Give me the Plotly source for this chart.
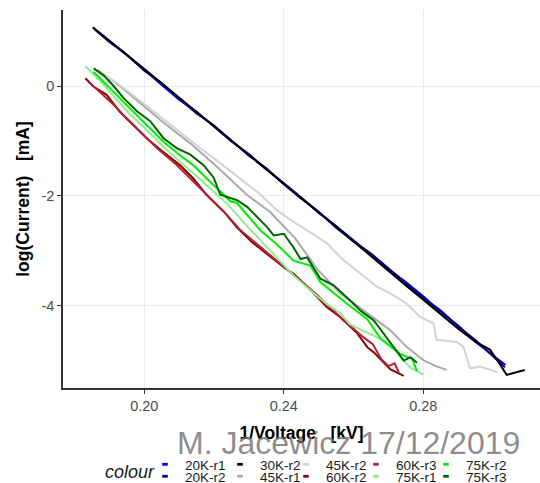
import plotly.graph_objects as go

# ---------------- data ----------------
names = ["20K-r1", "20K-r2", "30K-r2", "45K-r1", "45K-r2",
         "60K-r2", "60K-r3", "75K-r1", "75K-r2", "75K-r3"]
colors = ["#0000FF", "#00008B", "#000000", "#A9A9A9", "#D3D3D3",
          "#8B0000", "#B22234", "#90EE90", "#00EE00", "#006400"]

x_20k_r1 = [0.1855, 0.190, 0.195, 0.200, 0.205, 0.210, 0.215, 0.220, 0.225, 0.230, 0.235, 0.240,
            0.245, 0.250, 0.255, 0.260, 0.265, 0.270, 0.275, 0.280, 0.285, 0.290, 0.295, 0.300, 0.3036]
y_20k_r1 = [1.05, 0.82, 0.55, 0.30, 0.02, -0.25, -0.47, -0.74, -1.01, -1.24, -1.52, -1.77,
            -2.03, -2.31, -2.55, -2.81, -3.07, -3.34, -3.57, -3.83, -4.12, -4.36, -4.66, -4.91, -5.08]

x_20k_r2 = [0.1858, 0.190, 0.195, 0.200, 0.205, 0.210, 0.215, 0.220, 0.225, 0.230, 0.235, 0.240,
            0.245, 0.250, 0.255, 0.260, 0.265, 0.270, 0.275, 0.280, 0.285, 0.290, 0.295, 0.300, 0.3034]
y_20k_r2 = [1.03, 0.80, 0.57, 0.28, 0.05, -0.23, -0.50, -0.72, -1.00, -1.27, -1.50, -1.79,
            -2.05, -2.29, -2.58, -2.83, -3.05, -3.32, -3.60, -3.86, -4.09, -4.38, -4.63, -4.93, -5.12]

x_30k_r2 = [0.1852, 0.190, 0.195, 0.200, 0.205, 0.210, 0.215, 0.220, 0.225, 0.230, 0.235, 0.240,
            0.245, 0.250, 0.255, 0.260, 0.265, 0.270, 0.275, 0.280, 0.285, 0.290, 0.295, 0.2991,
            0.3015, 0.3039, 0.3091]
y_30k_r2 = [1.07, 0.83, 0.57, 0.31, 0.05, -0.21, -0.47, -0.73, -0.99, -1.25, -1.51, -1.77,
            -2.04, -2.30, -2.56, -2.83, -3.10, -3.36, -3.63, -3.89, -4.16, -4.42, -4.66, -4.80,
            -5.02, -5.26, -5.17]

x_45k_r1 = [0.1867, 0.1930, 0.1988, 0.2054, 0.2131, 0.2203, 0.2294, 0.2360, 0.2432, 0.2498,
            0.2561, 0.2618, 0.2656, 0.2704, 0.2752, 0.2800, 0.2836, 0.2867]
y_45k_r1 = [0.29, 0.00, -0.31, -0.66, -1.04, -1.44, -1.98, -2.29, -2.77, -3.35,
            -3.77, -4.04, -4.22, -4.44, -4.75, -4.99, -5.10, -5.17]

x_45k_r2 = [0.1873, 0.1925, 0.1988, 0.2045, 0.2103, 0.2160, 0.2217, 0.2275, 0.2332, 0.2380,
            0.2427, 0.2475, 0.2523, 0.2571, 0.2619, 0.2666, 0.2704, 0.2752, 0.2790, 0.2829,
            0.2838, 0.2896, 0.2915, 0.2934, 0.2963, 0.3001, 0.3011]
y_45k_r2 = [0.25, 0.04, -0.27, -0.56, -0.84, -1.13, -1.40, -1.68, -1.97, -2.26,
            -2.47, -2.66, -2.86, -3.17, -3.41, -3.65, -3.77, -3.96, -4.20, -4.32,
            -4.62, -4.66, -4.75, -5.14, -5.11, -5.20, -5.21]

x_60k_r2 = [0.1831, 0.1854, 0.1892, 0.1930, 0.1969, 0.2007, 0.2054, 0.2102, 0.2140, 0.2178,
            0.2230, 0.2266, 0.2310, 0.2355, 0.2400, 0.2428, 0.2475, 0.2524, 0.2562, 0.2610,
            0.2640, 0.2658, 0.2685, 0.2706, 0.2725, 0.2744]
y_60k_r2 = [0.14, -0.01, -0.16, -0.47, -0.71, -0.95, -1.20, -1.44, -1.68, -1.98,
            -2.30, -2.58, -2.85, -3.08, -3.30, -3.42, -3.70, -4.03, -4.21, -4.50,
            -4.76, -4.85, -5.02, -5.16, -5.22, -5.28]

x_60k_r3 = [0.1840, 0.1880, 0.1915, 0.1950, 0.1995, 0.2040, 0.2090, 0.2135, 0.2180, 0.2230,
            0.2275, 0.2320, 0.2365, 0.2410, 0.2450, 0.2495, 0.2540, 0.2585, 0.2625, 0.2655,
            0.2680, 0.2700, 0.2718, 0.2730]
y_60k_r3 = [0.08, -0.15, -0.36, -0.60, -0.88, -1.15, -1.42, -1.70, -1.99, -2.30,
            -2.62, -2.86, -3.10, -3.33, -3.55, -3.80, -4.08, -4.34, -4.56, -4.70,
            -4.98, -5.10, -5.05, -5.22]

x_75k_r1 = [0.1831, 0.1873, 0.1911, 0.1959, 0.2007, 0.2054, 0.2102, 0.2150, 0.2198, 0.2240,
            0.2290, 0.2332, 0.2380, 0.2428, 0.2480, 0.2523, 0.2561, 0.2590, 0.2675, 0.2714,
            0.2736, 0.2763, 0.2800]
y_75k_r1 = [0.36, 0.10, -0.18, -0.52, -0.80, -1.10, -1.38, -1.64, -1.92, -2.16,
            -2.52, -2.80, -3.13, -3.45, -3.74, -3.97, -4.13, -4.34, -4.60, -4.75,
            -4.95, -5.13, -5.25]

x_75k_r2 = [0.1854, 0.1873, 0.1911, 0.1959, 0.2007, 0.2054, 0.2102, 0.2140, 0.2178, 0.2218,
            0.2247, 0.2266, 0.2333, 0.2380, 0.2428, 0.2476, 0.2505, 0.2582, 0.2639, 0.2677,
            0.2734, 0.2768, 0.2782]
y_75k_r2 = [0.26, 0.14, -0.10, -0.40, -0.71, -1.01, -1.26, -1.44, -1.68, -1.93,
            -2.10, -2.13, -2.63, -2.88, -3.18, -3.27, -3.57, -3.97, -4.24, -4.60,
            -4.88, -4.97, -5.19]

x_75k_r3 = [0.1855, 0.1884, 0.1912, 0.1941, 0.1979, 0.2017, 0.2055, 0.2093, 0.2132, 0.2170,
            0.2199, 0.2218, 0.2266, 0.2295, 0.2352, 0.2371, 0.2400, 0.2428, 0.2448, 0.2467,
            0.2505, 0.2543, 0.2591, 0.2620, 0.2658, 0.2687, 0.2744, 0.2763, 0.2782]
y_75k_r3 = [0.32, 0.19, 0.00, -0.22, -0.46, -0.64, -0.95, -1.13, -1.25, -1.44,
            -1.67, -1.98, -2.08, -2.20, -2.57, -2.72, -2.69, -2.94, -3.15, -3.12,
            -3.51, -3.63, -3.91, -4.09, -4.27, -4.52, -5.00, -4.94, -5.04]

series_x = [x_20k_r1, x_20k_r2, x_30k_r2, x_45k_r1, x_45k_r2,
            x_60k_r2, x_60k_r3, x_75k_r1, x_75k_r2, x_75k_r3]
series_y = [y_20k_r1, y_20k_r2, y_30k_r2, y_45k_r1, y_45k_r2,
            y_60k_r2, y_60k_r3, y_75k_r1, y_75k_r2, y_75k_r3]

x_ticks = [0.20, 0.24, 0.28]
x_ticklabels = ["0.20", "0.24", "0.28"]
y_ticks = [0, -2, -4]
y_ticklabels = ["0", "-2", "-4"]

x_title = "1/Voltage   [kV]"
y_title = "log(Current)   [mA]"
legend_title = "colour"
watermark = "M. Jacewicz 17/12/2019"

# legend grid as laid out in the reference: 2 rows x 5 columns, filled column by column
legend_rows = [["20K-r1", "30K-r2", "45K-r2", "60K-r3", "75K-r2"],
               ["20K-r2", "45K-r1", "60K-r2", "75K-r1", "75K-r3"]]

FONT = "Liberation Sans, Arial, Helvetica, sans-serif"

# pixel layout helpers (figure 540x483, plot area 63..540 x 10..388)
PL, PW, PB, PH = 63, 477, 388, 378
def px_x(px):
    return (px - PL) / PW
def px_y(py):
    return (PB - py) / PH

legend_col_left = [145, 220, 286, 356, 426]
legend_row_mid = [464.5, 476.5]

fig = go.Figure()
for nm, col, xs, ys in zip(names, colors, series_x, series_y):
    fig.add_trace(go.Scatter(x=xs, y=ys, mode="lines", name=nm,
                             line=dict(color=col, width=2), showlegend=False))

legend_layouts = {}
k = 0
for r, row in enumerate(legend_rows):
    for c, nm in enumerate(row):
        k += 1
        leg = "legend" if k == 1 else "legend%d" % k
        col = colors[names.index(nm)]
        fig.add_trace(go.Scatter(x=[None], y=[None], mode="markers", name=nm,
                                 legend=leg, showlegend=True,
                                 marker=dict(symbol="line-ew-open", size=4, color=col,
                                             line=dict(color=col, width=2.8))))
        legend_layouts[leg] = dict(
            orientation="h", xanchor="left", yanchor="middle",
            x=px_x(legend_col_left[c]), y=px_y(legend_row_mid[r]),
            font=dict(family=FONT, size=13.5, color="#1a1a1a"),
            bgcolor="rgba(0,0,0,0)", borderwidth=0,
            itemclick=False, itemdoubleclick=False)

fig.update_layout(
    width=540, height=483,
    margin=dict(l=63, r=0, t=10, b=95, autoexpand=False),
    paper_bgcolor="white", plot_bgcolor="white",
    xaxis=dict(range=[0.17669, 0.31346], tickvals=x_ticks, ticktext=x_ticklabels,
               showgrid=True, gridcolor="#EBEBEB", gridwidth=1, zeroline=False,
               showline=True, linecolor="#333333", linewidth=1.5,
               ticks="outside", ticklen=4, tickcolor="#333333", tickwidth=1.2,
               tickfont=dict(family=FONT, size=14.5, color="#4D4D4D"),
               title=dict(text="<b>" + x_title + "</b>", standoff=14,
                          font=dict(family=FONT, size=17.5, color="#000000"))),
    yaxis=dict(range=[-5.499, 1.384], tickvals=y_ticks, ticktext=y_ticklabels,
               showgrid=True, gridcolor="#EBEBEB", gridwidth=1, zeroline=False,
               showline=True, linecolor="#333333", linewidth=1.5,
               ticks="outside", ticklen=4, tickcolor="#333333", tickwidth=1.2,
               tickfont=dict(family=FONT, size=14.5, color="#4D4D4D"),
               title=dict(text="<b>" + y_title + "</b>", standoff=7,
                          font=dict(family=FONT, size=17.5, color="#000000"))),
    showlegend=True,
    **legend_layouts,
)

fig.add_annotation(text=watermark, xref="paper", yref="paper",
                   x=px_x(348), y=px_y(443),
                   xanchor="center", yanchor="middle", showarrow=False,
                   font=dict(family=FONT, size=32, color="rgba(120,120,120,0.85)"))
fig.add_annotation(text="<i>" + legend_title + "</i>", xref="paper", yref="paper",
                   x=px_x(130), y=px_y(472),
                   xanchor="center", yanchor="middle", showarrow=False,
                   font=dict(family=FONT, size=18, color="#1a1a1a"))

fig.write_html("out.html")
